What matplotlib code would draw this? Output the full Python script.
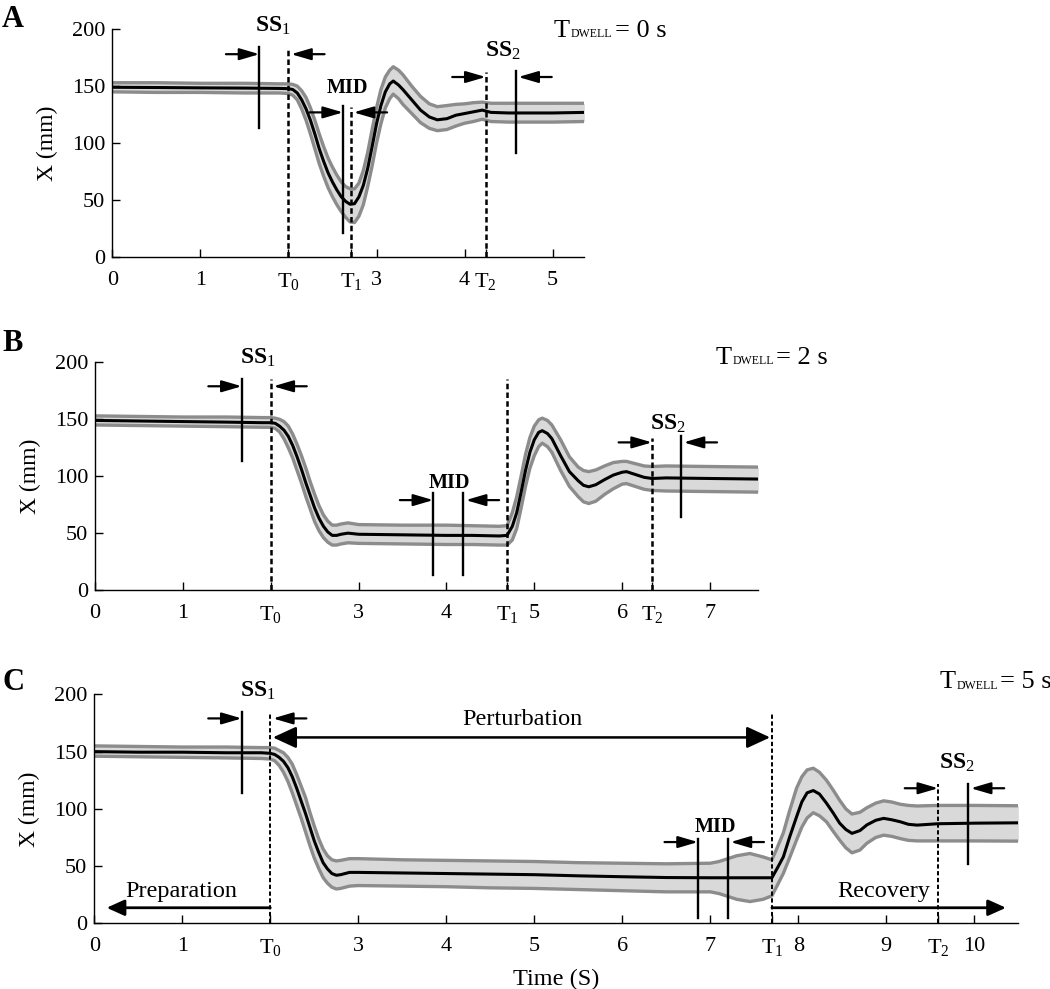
import numpy as np
import matplotlib.pyplot as plt

plt.rcParams['font.family'] = ['Liberation Serif', 'DejaVu Serif']
plt.rcParams['mathtext.fontset'] = 'custom'
plt.rcParams['mathtext.rm'] = 'Liberation Serif'
plt.rcParams['mathtext.it'] = 'Liberation Serif:italic'
plt.rcParams['mathtext.bf'] = 'Liberation Serif:bold'

# ---- panel A (T_dwell = 0 s) ----
xA = [0, 0.5, 1.0, 1.5, 1.9, 2.0, 2.05, 2.1, 2.15, 2.2, 2.25, 2.3, 2.35, 2.4, 2.45, 2.5,
      2.55, 2.6, 2.65, 2.7, 2.75, 2.8, 2.85, 2.9, 2.95, 3.0, 3.05, 3.1, 3.15, 3.19, 3.25,
      3.3, 3.4, 3.5, 3.6, 3.69, 3.8, 3.9, 4.0, 4.1, 4.2, 4.3, 4.5, 5.0, 5.36]
meanA = [149, 148.8, 148.5, 148.3, 148, 147.8, 147, 144, 138, 130, 120, 108, 95, 84, 74, 66,
         59, 53, 49, 46.5, 47, 53, 63, 78, 97, 117, 133, 145, 152, 154.5, 151,
         147, 138, 129, 123, 120.5, 121.5, 124.5, 126, 127.5, 129, 127, 126.5, 126.5, 127]
upperA = [153, 153, 152.5, 152.5, 152, 152, 151.5, 150, 146, 140, 131, 120, 108, 97, 87, 79,
          72, 66, 62, 60, 60, 65, 76, 92, 112, 131, 147, 158, 164, 167, 164,
          160, 150, 141, 134.5, 132, 133, 134, 134.5, 135.5, 136, 135, 135, 135, 135]
lowerA = [145, 144.5, 144.5, 144, 144, 143.5, 142, 138, 130, 120, 108, 95, 82, 71, 61, 53,
          46, 40, 35, 31, 30.5, 36, 46, 62, 80, 100, 117, 131, 139, 143, 139,
          134, 126, 118, 113, 111, 112, 115, 117.5, 119, 121, 119, 118.5, 118.5, 119]
eventsA = [2.0, 2.71, 4.24]          # T0, T1, T2
dash_topA = [183, 132, 162]
solidA = [(1.67, 113, 184), (2.62, 21, 133), (4.58, 91.6, 163)]
windowsA = [(1.67, 2.0, 178), (2.62, 2.71, 127), (4.24, 4.58, 158)]
labelsA = [('SS', '1', 1.82, 198), ('MID', None, 2.67, 143.7), ('SS', '2', 4.44, 175.7)]

# ---- panel B (T_dwell = 2 s) ----
xB = [0, 0.5, 1.0, 1.5, 1.9, 2.0, 2.05, 2.1, 2.15, 2.2, 2.25, 2.3, 2.35, 2.4, 2.45, 2.5,
      2.55, 2.6, 2.65, 2.7, 2.75, 2.8, 2.88, 3.0, 3.5, 4.0, 4.3, 4.6, 4.69, 4.75, 4.8,
      4.85, 4.9, 4.95, 5.0, 5.05, 5.09, 5.15, 5.2, 5.3, 5.4, 5.5, 5.56, 5.62, 5.7, 5.8,
      5.9, 6.0, 6.05, 6.15, 6.25, 6.34, 6.5, 7.0, 7.55]
meanB = [149, 148.5, 148, 147.5, 147, 147, 146.5, 144, 140.5, 135, 127, 117, 106, 94, 83, 72,
         63, 56, 51, 48, 48, 49, 50, 49, 48.5, 48, 48, 47.5, 48, 56, 68,
         86, 105, 121, 132, 138.5, 140, 137.5, 133, 118, 104, 96, 92, 90.7, 92.5, 97,
         101, 103.5, 104, 101.5, 99, 98, 98.5, 98, 97.5]
upperB = [153, 152.5, 152, 152, 151.5, 151.5, 151, 150, 148, 144, 137, 128, 118, 107, 95, 84,
          74, 66, 60.5, 57, 57, 58, 59, 57.5, 57, 57, 56.5, 56, 56.5, 68, 82,
          100, 119, 134, 144, 149.5, 151, 149, 145, 132, 117, 108, 105, 104, 105.5, 109,
          112, 113, 113, 111, 109, 108.5, 109, 108.5, 108]
lowerB = [145, 144.5, 144, 143.5, 143, 143, 142, 139, 133, 125, 116, 105, 94, 82, 71, 60,
          52, 46, 42, 39.5, 39.5, 40.5, 41.5, 41, 40.5, 40, 40, 39.5, 39.5, 44, 54,
          72, 91, 107, 118, 126, 129, 126, 121, 105, 91, 82, 77.5, 76, 78, 84,
          89, 93, 93.5, 91, 88.5, 87.5, 87, 86.5, 86]
eventsB = [2.0, 4.69, 6.34]
dash_topB = [185, 185, 133.6]
solidB = [(1.67, 113, 185), (3.85, 13, 85), (4.19, 13, 85), (6.67, 64, 135.5)]
windowsB = [(1.67, 2.0, 179), (3.85, 4.19, 79), (6.34, 6.67, 129.7)]
labelsB = [('SS', '1', 1.85, 199), ('MID', None, 4.03, 89.3), ('SS', '2', 6.52, 140.5)]

# ---- panel C (T_dwell = 5 s) ----
xC = [0, 0.5, 1.0, 1.5, 1.9, 2.0, 2.05, 2.1, 2.15, 2.2, 2.25, 2.3, 2.35, 2.4, 2.45, 2.5,
      2.55, 2.6, 2.65, 2.7, 2.75, 2.8, 2.9, 3.0, 3.5, 4.0, 4.5, 5.0, 5.5, 6.0, 6.5,
      7.0, 7.1, 7.2, 7.3, 7.45, 7.6, 7.7, 7.76, 7.83, 7.9, 7.98, 8.04, 8.1, 8.17, 8.24,
      8.32, 8.4, 8.47, 8.54, 8.61, 8.7, 8.78, 8.88, 8.97, 9.06, 9.16, 9.25, 9.35, 9.59,
      10.0, 10.5]
meanC = [150, 149.5, 149.5, 149, 149, 148.5, 147.5, 145, 141.5, 136, 128, 118, 107, 96, 84, 72,
         62, 53, 47.5, 43.5, 42, 42.5, 44.5, 44.5, 44, 43.5, 43, 42.5, 41.5, 40.7, 40,
         39.8, 39.8, 39.8, 39.8, 39.8, 39.8, 39.8, 48, 58, 75, 93, 106, 114, 116, 113,
         105, 96, 87.5, 82, 78.6, 81, 86, 90, 91.7, 90.5, 88.7, 86.5, 85.8, 87,
         87.5, 87.8]
upperC = [155, 154.5, 154, 154, 153.5, 153.5, 153, 151, 149, 145, 139, 130, 120, 110, 97, 85,
          74, 65, 59, 55.5, 54.5, 55, 56.5, 56.5, 55.5, 55, 54.5, 54, 53, 52.5, 52,
          52.5, 54, 56.5, 59, 61, 58, 55.5, 66, 79, 98, 118, 128, 134, 135.5, 132,
          125, 116, 107.5, 100, 95.5, 97, 101, 105, 107, 106, 104, 103, 102.5, 103,
          103, 102.7]
lowerC = [146, 145.5, 145, 144.5, 144, 143.5, 142, 138, 132, 124, 114, 103, 92, 80, 68, 57,
          48, 40, 35, 31.5, 30, 30.5, 32.5, 33, 32.5, 32, 31, 30.5, 29.5, 28.5, 27.5,
          27.5, 26, 23.5, 21, 19, 21, 24, 33, 43.6, 57, 72.7, 84, 92, 96.6, 94,
          88.7, 80, 72.7, 66, 61.6, 64, 70, 75, 77, 76, 74, 72.5, 72, 72,
          72, 71.8]
eventsC = [2.0, 7.70, 9.59]
dash_topC = [185, 185, 121.6]
solidC = [(1.675, 113.5, 184.7), (6.86, 4.4, 74), (7.20, 4.4, 74), (9.93, 52, 122)]
windowsC = [(1.675, 2.0, 179), (6.86, 7.20, 71), (9.59, 9.93, 118)]
labelsC = [('SS', '1', 1.86, 198.4), ('MID', None, 7.05, 80), ('SS', '2', 9.80, 135.3)]

FILL = '#d9d9d9'
EDGE = '#8c8c8c'


def small_arrow(ax, tip, tail, y):
    ax.annotate('', xy=(tip, y), xytext=(tail, y),
                arrowprops=dict(arrowstyle='-|>,head_length=0.75,head_width=0.22',
                                color='k', lw=1.6, shrinkA=0, shrinkB=0, mutation_scale=16))


def panel(rect, x, mean, upper, lower, xmax, ints, events, dash_top, solid, windows,
          labels, letter, letter_y, dwell, dwell_xy, dash_lw=1.8):
    ax = fig.add_axes(rect)
    ax.fill_between(x, lower, upper, color=FILL, lw=0)
    ax.plot(x, upper, color=EDGE, lw=2.4, solid_joinstyle='round')
    ax.plot(x, lower, color=EDGE, lw=2.4, solid_joinstyle='round')
    ax.plot(x, mean, color='k', lw=2.2, solid_joinstyle='round')
    ax.set_xlim(0, xmax)
    ax.set_ylim(0, 200)
    for sp in ['top', 'right']:
        ax.spines[sp].set_visible(False)
    for sp in ['left', 'bottom']:
        ax.spines[sp].set_linewidth(1.0)

    ticks = list(ints) + list(events)
    names = [str(v) for v in ints] + [r'$\mathrm{T}_{%d}$' % i for i in range(3)]
    order = np.argsort(ticks)
    ax.set_xticks([ticks[i] for i in order])
    ax.set_xticklabels([names[i] for i in order])
    ax.set_yticks([0, 50, 100, 150, 200])
    ax.tick_params(direction='in', length=6, width=1, labelsize=16)
    ax.tick_params(axis='x', pad=10)
    ax.tick_params(axis='y', pad=5)
    ax.set_ylabel('X (mm)', fontsize=17)
    width_px = rect[2] * fig.get_figwidth() * fig.dpi
    ax.yaxis.set_label_coords(-54 / width_px, 0.5)

    for t, top in zip(events, dash_top):
        ax.plot([t, t], [0, top], color='k', lw=dash_lw, ls=(0, (2.2, 1.3)))
    for xs, y0, y1 in solid:
        ax.plot([xs, xs], [y0, y1], color='k', lw=1.7)
    for x0, x1, y in windows:
        small_arrow(ax, x0, x0 - 0.38, y)
        small_arrow(ax, x1 + 0.03, x1 + 0.41, y)
    for main, sub, lx, ly in labels:
        if sub is None:
            txt, fs = r'$\mathbf{%s}$' % main, 14.5
        else:
            txt, fs = r'$\mathbf{%s}_{\mathrm{%s}}$' % (main, sub), 17
        ax.text(lx, ly, txt, fontsize=fs, ha='center', va='baseline')

    dx, dy = dwell_xy
    ax.text(dx, dy, 'T', fontsize=19, ha='left', va='baseline')
    ax.annotate('DWELL', xy=(dx, dy), xytext=(12.5, -0.5), textcoords='offset points',
                fontsize=8.5, ha='left', va='baseline', annotation_clip=False)
    ax.annotate('= %d s' % dwell, xy=(dx, dy), xytext=(44, 0), textcoords='offset points',
                fontsize=19, ha='left', va='baseline', annotation_clip=False)
    fig.text(0.002, letter_y, letter, fontsize=22, fontweight='bold', ha='left', va='top')
    return ax


fig = plt.figure(figsize=(10.5, 9.89), dpi=100)

panel([0.1070, 0.7398, 0.4495, 0.2308], xA, meanA, upperA, lowerA, 5.36,
      [0, 1, 3, 4, 5], eventsA, dash_topA, solidA, windowsA, labelsA,
      'A', 1 - 5 / 989, 0, (5.01, 193.3))
panel([0.0905, 0.4034, 0.6317, 0.2302], xB, meanB, upperB, lowerB, 7.55,
      [0, 1, 3, 4, 5, 6, 7], eventsB, dash_topB, solidB, windowsB, labelsB,
      'B', 1 - 329 / 989, 2, (7.06, 199))
axC = panel([0.0898, 0.0664, 0.8800, 0.2315], xC, meanC, upperC, lowerC, 10.5,
            [0, 1, 3, 4, 5, 6, 7, 8, 9, 10], eventsC, dash_topC, solidC, windowsC, labelsC,
            'C', 1 - 668 / 989, 5, (9.6, 205.2), dash_lw=1.4)

# phase arrows in panel C
axC.annotate('', xy=(2.03, 162.4), xytext=(7.68, 162.4),
             arrowprops=dict(arrowstyle='<|-|>,head_length=0.65,head_width=0.3',
                             color='k', lw=1.8, shrinkA=0, shrinkB=0, mutation_scale=22))
axC.text(4.86, 173, 'Perturbation', fontsize=17.5, ha='center', va='baseline')
axC.annotate('', xy=(0.14, 13.6), xytext=(eventsC[0], 13.6),
             arrowprops=dict(arrowstyle='-|>,head_length=0.6,head_width=0.27',
                             color='k', lw=2.0, shrinkA=0, shrinkB=0, mutation_scale=18))
axC.text(0.99, 23.3, 'Preparation', fontsize=17.5, ha='center', va='baseline')
axC.annotate('', xy=(10.36, 13.6), xytext=(eventsC[1], 13.6),
             arrowprops=dict(arrowstyle='-|>,head_length=0.6,head_width=0.27',
                             color='k', lw=2.0, shrinkA=0, shrinkB=0, mutation_scale=18))
axC.text(8.97, 23.3, 'Recovery', fontsize=17.5, ha='center', va='baseline')
axC.set_xlabel('Time (S)', fontsize=17.5, labelpad=8)

fig.savefig('out.png', dpi=100)
